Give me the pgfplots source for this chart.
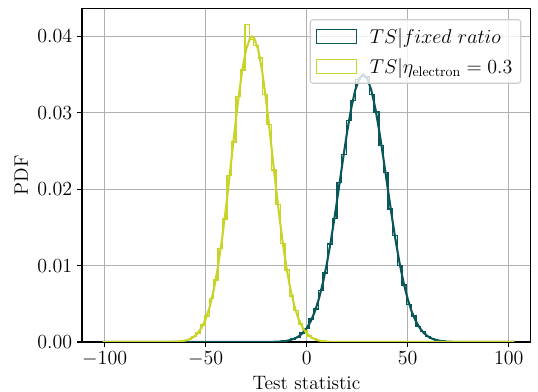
\documentclass[border=0pt]{standalone}
\usepackage{pgfplots}
\pgfplotsset{compat=1.18}
\definecolor{tealc}{RGB}{10,87,89}
\definecolor{yelc}{RGB}{200,212,40}
\definecolor{gridc}{HTML}{B0B0B0}
\definecolor{legc}{HTML}{CCCCCC}
\newcommand{\fs}{\fontsize{14}{17}\selectfont}
\begin{document}
\begin{tikzpicture}
\begin{axis}[name=ax, scale only axis, width=323.1pt, height=240.3pt,
  xmin=-111.2, xmax=110.9, ymin=0, ymax=0.0437,
  xtick={-100,-50,0,50,100}, ytick={0,0.01,0.02,0.03,0.04},
  scaled y ticks=false,
  yticklabel style={/pgf/number format/.cd, fixed, fixed zerofill, precision=2},
  tick align=outside, major tick length=3.5pt,
  xtick pos=left, ytick pos=left,
  tick style={black, line width=0.8pt},
  axis line style={line width=0.8pt},
  grid=major, grid style={gridc, line width=0.8pt},
  tick label style={font=\fs},
  label style={font=\fs},
  xlabel={Test statistic}, ylabel={PDF},
  legend cell align=left,
  legend style={at={(1,1)}, xshift=-6.8pt, yshift=-7.9pt, anchor=north east,
    draw=legc, line width=0.8pt, rounded corners=2pt, fill=white, fill opacity=0.8, text opacity=1,
    font=\fs, inner xsep=4pt, inner ysep=5pt, row sep=7.7pt,
    nodes={inner sep=2pt, text height=10pt, text depth=0pt},
    /tikz/every odd column/.append style={column sep=7pt}},
  legend image code/.code={\draw[#1, line width=1.1pt, rounded corners=0pt] (0pt,-5pt) rectangle (28.8pt,5pt);},
]
\addplot[tealc, line width=1pt, const plot mark left] coordinates {
(-12.6,0) (-12.6,0.00011) (-10.3,0.00017) (-8.0,0.00039) (-5.7,0.00061) (-3.4,0.00118)
(-1.1,0.00176) (1.2,0.00302) (3.5,0.00432) (5.8,0.00671) (8.1,0.00905) (10.4,0.01281)
(12.7,0.01617) (15.0,0.02086) (17.3,0.02453) (19.6,0.02899) (21.9,0.03162) (24.2,0.03436)
(26.5,0.03478) (28.8,0.03470) (31.1,0.03241) (33.4,0.03010) (35.7,0.02571) (38.0,0.02215)
(40.3,0.01743) (42.6,0.01392) (44.9,0.01003) (47.2,0.00745) (49.5,0.00489) (51.8,0.00341)
(54.1,0.00205) (56.4,0.00134) (58.7,0.00072) (61.0,0.00045) (63.3,0.00021) (65.6,0.00013)
(67.9,0.00005) (70.2,0)};
\addlegendentry{$TS|fixed\ ratio$}
\addplot[yelc, line width=1pt, const plot mark left] coordinates {
(-61.4,0) (-61.4,0.00019) (-59.2,0.00033) (-57.0,0.00071) (-54.8,0.00118) (-52.6,0.00220)
(-50.4,0.00338) (-48.2,0.00571) (-46.0,0.00810) (-43.8,0.01220) (-41.6,0.01610) (-39.4,0.02180)
(-37.2,0.02620) (-35.0,0.03210) (-32.8,0.03560) (-30.6,0.04160) (-28.4,0.03960) (-26.2,0.03880)
(-24.0,0.03720) (-21.8,0.03240) (-19.6,0.02850) (-17.4,0.02250) (-15.2,0.01800) (-13.0,0.01290)
(-10.8,0.00940) (-8.6,0.00600) (-6.4,0.00410) (-4.2,0.00236) (-2.0,0.00148) (0.2,0.00076)
(2.4,0.00044) (4.6,0.00020) (6.8,0.00011) (9.0,0.00004) (11.2,0)};
\addlegendentry{$TS|\eta_{\mathrm{electron}}=0.3$}
\addplot[tealc, line width=1.5pt, forget plot] table {
x y
-101 0
-22 0
-18 0.000012
-16 0.000023
-14 0.000044
-12 0.000083
-10 0.000149
-8 0.000261
-6 0.000443
-4 0.000729
-2 0.001165
0 0.001806
2 0.002717
4 0.003964
6 0.005614
8 0.007715
10 0.01028
12 0.01330
14 0.01668
16 0.02031
18 0.02398
20 0.02748
22 0.03055
24 0.03295
26 0.03448
28 0.03500
30 0.03448
32 0.03295
34 0.03055
36 0.02748
38 0.02398
40 0.02031
42 0.01668
44 0.01330
46 0.01028
48 0.007715
50 0.005614
52 0.003964
54 0.002717
56 0.001806
58 0.001165
60 0.000729
62 0.000443
64 0.000261
66 0.000149
68 0.000083
70 0.000044
72 0.000023
74 0.000012
78 0
102.8 0
};
\addplot[yelc, line width=1.5pt, forget plot] table {
x y
-101 0
-74 0
-70 0.0000046
-68 0.0000106
-66 0.000023
-64 0.000049
-62 0.000099
-60 0.000192
-58 0.000360
-56 0.000648
-54 0.001122
-52 0.001870
-50 0.002992
-48 0.004604
-46 0.006820
-44 0.009700
-42 0.01328
-40 0.01747
-38 0.02210
-36 0.02689
-34 0.03146
-32 0.03539
-30 0.03828
-28 0.03980
-27 0.04000
-26 0.03980
-24 0.03828
-22 0.03539
-20 0.03146
-18 0.02689
-16 0.02210
-14 0.01747
-12 0.01328
-10 0.009700
-8 0.006820
-6 0.004604
-4 0.002992
-2 0.001870
0 0.001122
2 0.000648
4 0.000360
6 0.000192
8 0.000099
10 0.000049
12 0.000023
14 0.0000106
16 0.0000046
20 0
102.8 0
};
\end{axis}
\pgfresetboundingbox
\path[use as bounding box] ([shift={(-59.04pt,-36pt)}]ax.south west) rectangle ([shift={(328.3pt,246.2pt)}]ax.south west);
\end{tikzpicture}
\end{document}
